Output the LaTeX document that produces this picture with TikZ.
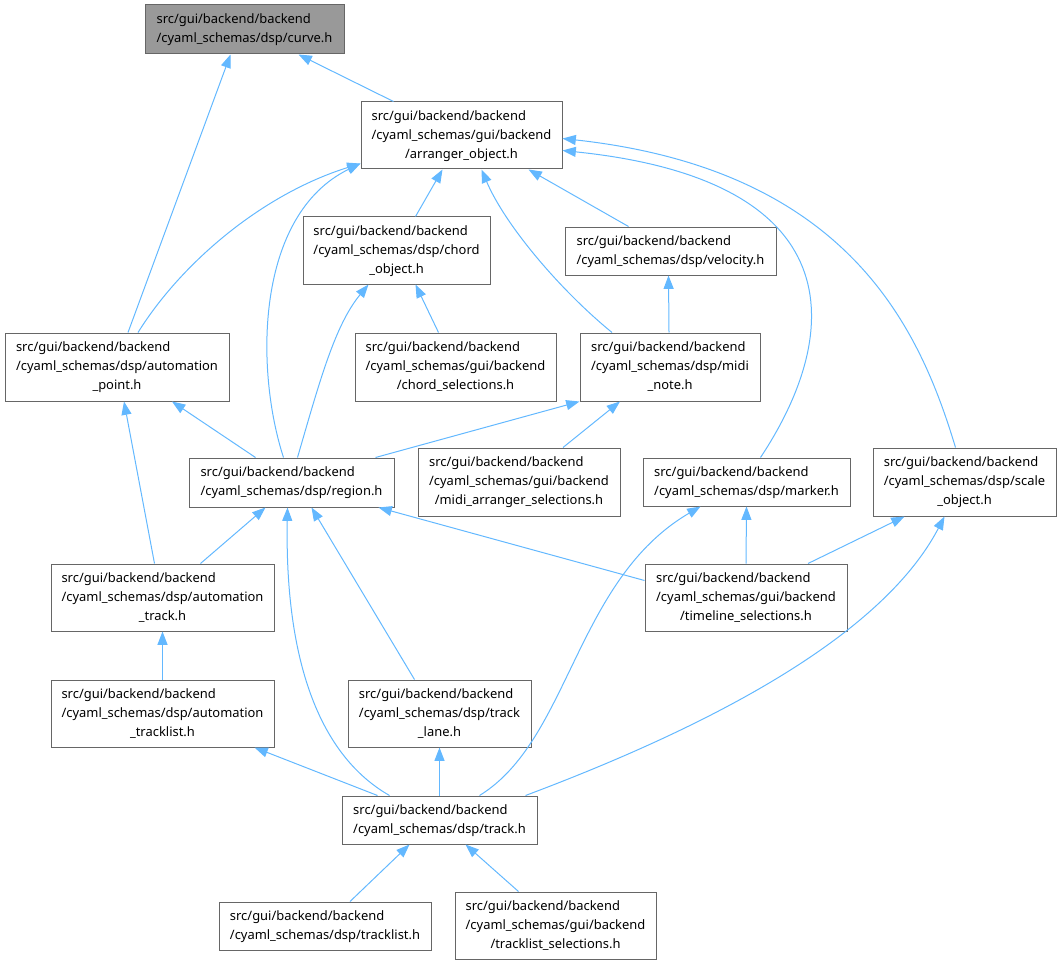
\documentclass[tikz,border=0pt]{standalone}
\usepackage{fontspec}
\setmainfont{Noto Sans}
\usetikzlibrary{arrows.meta,calc}
\definecolor{edgeblue}{HTML}{63B8FF}
\definecolor{boxline}{HTML}{666666}
\definecolor{curvefill}{HTML}{999999}
% first lines left, last line centred
\newcommand{\flab}[2]{\begin{tabular}{@{}l@{}}#1\\\multicolumn{1}{@{}c@{}}{#2}\end{tabular}}
\begin{document}
\begin{tikzpicture}[x=0.75pt,y=-0.75pt]
            \tikzset{
                file/.style 2 args={draw=boxline, fill=white, line width=0.75pt, inner sep=0pt,
                    minimum width=#1*0.75pt, minimum height=#2*0.75pt,
                    font=\fontsize{9.7}{14.25}\selectfont},
                dep/.style={draw=edgeblue, line width=0.75pt, -{Triangle[length=10pt,width=7.5pt]}},}
            \useasboundingbox (0,0) rectangle (1062,966);
            % files
            \node[file={199}{49}, fill=curvefill] (curve) at (244.5,29.5) {\flab{src/gui/backend/backend}{/cyaml\_schemas/dsp/curve.h}};
            \node[file={201}{67}] (arranger) at (461.5,135.5) {\flab{src/gui/backend/backend\\/cyaml\_schemas/gui/backend}{/arranger\_object.h}};
            \node[file={187}{67}] (chord) at (396.5,250.5) {\flab{src/gui/backend/backend\\/cyaml\_schemas/dsp/chord}{\_object.h}};
            \node[file={211}{48}] (velocity) at (670.5,251) {\flab{src/gui/backend/backend}{/cyaml\_schemas/dsp/velocity.h}};
            \node[file={224}{68}] (autopoint) at (117,367) {\flab{src/gui/backend/backend\\/cyaml\_schemas/dsp/automation}{\_point.h}};
            \node[file={201}{68}] (chordsel) at (455.5,367) {\flab{src/gui/backend/backend\\/cyaml\_schemas/gui/backend}{/chord\_selections.h}};
            \node[file={180}{68}] (midinote) at (670,367) {\flab{src/gui/backend/backend\\/cyaml\_schemas/dsp/midi}{\_note.h}};
            \node[file={205}{49}] (region) at (291.5,482.5) {\flab{src/gui/backend/backend}{/cyaml\_schemas/dsp/region.h}};
            \node[file={202}{68}] (midiarr) at (519,482) {\flab{src/gui/backend/backend\\/cyaml\_schemas/gui/backend}{/midi\_arranger\_selections.h}};
            \node[file={207}{48}] (marker) at (746.5,482) {\flab{src/gui/backend/backend}{/cyaml\_schemas/dsp/marker.h}};
            \node[file={183}{68}] (scale) at (964.5,482) {\flab{src/gui/backend/backend\\/cyaml\_schemas/dsp/scale}{\_object.h}};
            \node[file={223}{67}] (autotrack) at (162.5,597.5) {\flab{src/gui/backend/backend\\/cyaml\_schemas/dsp/automation}{\_track.h}};
            \node[file={202}{67}] (timeline) at (746,597.5) {\flab{src/gui/backend/backend\\/cyaml\_schemas/gui/backend}{/timeline\_selections.h}};
            \node[file={223}{67}] (autotracklist) at (162.5,713.5) {\flab{src/gui/backend/backend\\/cyaml\_schemas/dsp/automation}{\_tracklist.h}};
            \node[file={183}{67}] (tracklane) at (439.5,713.5) {\flab{src/gui/backend/backend\\/cyaml\_schemas/dsp/track}{\_lane.h}};
            \node[file={195}{48}] (track) at (439.5,820) {\flab{src/gui/backend/backend}{/cyaml\_schemas/dsp/track.h}};
            \node[file={212}{48}] (tracklist) at (325,926) {\flab{src/gui/backend/backend}{/cyaml\_schemas/dsp/tracklist.h}};
            \node[file={201}{67}] (tracklistsel) at (555.5,925.5) {\flab{src/gui/backend/backend\\/cyaml\_schemas/gui/backend}{/tracklist\_selections.h}};
            % includes
            \draw[dep] ($(autopoint.north)+(11,0)$) -- ($(curve.south)+(-14,0)$);
            \draw[dep] ($(arranger.north)+(-68,0)$) -- ($(curve.south)+(54,0)$);
            \draw[dep] ($(chord.north)+(19,0)$) -- ($(arranger.south)+(-19,0)$);
            \draw[dep] ($(velocity.north)+(-42,0)$) -- ($(arranger.south)+(67,0)$);
            \draw[dep] ($(autopoint.north)+(21,0)$) .. controls (180,265) and (260,195) .. ($(arranger.west)+(0,28)$);
            \draw[dep] ($(region.north)+(-8,0)$) .. controls (255,370) and (255,215) .. ($(arranger.west)+(0,28)$);
            \draw[dep] ($(midinote.north)+(-58,0)$) .. controls (560,290) and (505,225) .. ($(arranger.south)+(20,0)$);
            \draw[dep] ($(marker.north)+(14,0)$) .. controls (845,330) and (850,180) .. ($(arranger.east)+(0,15)$);
            \draw[dep] ($(scale.north)+(-9,0)$) .. controls (920,330) and (850,170) .. ($(arranger.east)+(0,3)$);
            \draw[dep] ($(chordsel.north)+(-17,0)$) -- ($(chord.south)+(19,0)$);
            \draw[dep] ($(region.north)+(6,0)$) .. controls (320,380) and (335,325) .. ($(chord.south)+(-28,0)$);
            \draw[dep] ($(midinote.north)+(-1,0)$) -- ($(velocity.south)+(-2,0)$);
            \draw[dep] ($(region.north)+(-36,0)$) -- ($(autopoint.south)+(55,0)$);
            \draw[dep] ($(autotrack.north)+(-8,0)$) -- ($(autopoint.south)+(7,0)$);
            \draw[dep] ($(region.north)+(84,0)$) -- (midinote.south west);
            \draw[dep] ($(midiarr.north)+(44,0)$) -- ($(midinote.south)+(-50,0)$);
            \draw[dep] ($(autotrack.north)+(38,0)$) -- ($(region.south)+(-26,0)$);
            \draw[dep] ($(track.north)+(-50,0)$) .. controls (310,750) and (285,640) .. ($(region.south)+(-4,0)$);
            \draw[dep] ($(tracklane.north)+(-25,0)$) -- ($(region.south)+(20,0)$);
            \draw[dep] ($(timeline.west)+(0,-17)$) -- ($(region.south east)+(-16,0)$);
            \draw[dep] (timeline.north) -- (marker.south);
            \draw[dep] ($(track.north)+(40,0)$) .. controls (570,740) and (575,580) .. ($(marker.south)+(-46,0)$);
            \draw[dep] ($(timeline.north)+(62,0)$) -- ($(scale.south)+(-60,0)$);
            \draw[dep] ($(track.north)+(86,0)$) .. controls (700,730) and (880,640) .. ($(scale.south)+(-20,0)$);
            \draw[dep] (autotracklist.north) -- (autotrack.south);
            \draw[dep] ($(track.north)+(-62,0)$) -- ($(autotracklist.south)+(92,0)$);
            \draw[dep] (track.north) -- (tracklane.south);
            \draw[dep] ($(tracklist.north)+(25,0)$) -- ($(track.south)+(-30,0)$);
            \draw[dep] ($(tracklistsel.north)+(-37,0)$) -- ($(track.south)+(26,0)$);
        \end{tikzpicture}
\end{document}
